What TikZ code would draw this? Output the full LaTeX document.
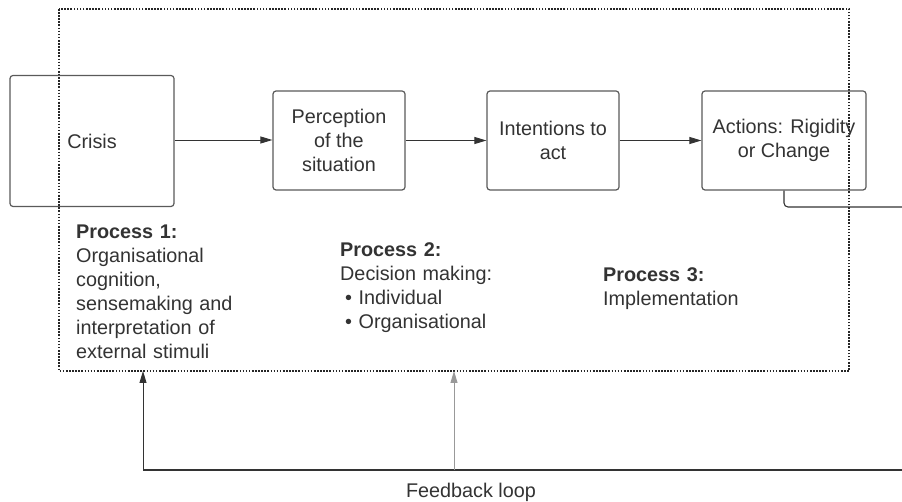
\documentclass[tikz,border=0pt]{standalone}
\usepackage{fontspec}
\setmainfont{Liberation Sans}
\usetikzlibrary{arrows.meta}
\definecolor{ink}{HTML}{333333}
\definecolor{edge}{HTML}{5A5A5A}
\begin{document}
\begin{tikzpicture}[x=1pt,y=-1pt,
  font=\fontsize{19.8}{24}\selectfont, text=ink,
  stagebox/.style={draw=edge, line width=1.2pt, rounded corners=3pt,
    align=center, inner sep=0pt},
  flow/.style={draw=ink, line width=0.9pt, -{Triangle[length=12pt,width=7pt]}},
  procnote/.style={anchor=base west, inner sep=0pt, align=left,
    text width=190pt},
  frame/.style={draw=black!85, line width=2pt, dash pattern=on 1.6pt off 1.5pt}]
\useasboundingbox (0,0) rectangle (902,502);
\fill[white] (0,0) rectangle (902,502);

% dotted boundary of the three processes
\draw[frame] (59,9) rectangle (849,371);

% the chain of stages
\node[stagebox, minimum width=164pt, minimum height=131pt] (crisis) at (92,141) {Crisis};
\node[stagebox, minimum width=132pt, minimum height=99pt] (perc) at (339,140.5) {Perception\\of the\\situation};
\node[stagebox, minimum width=132pt, minimum height=99pt] (intent) at (553,140.5) {Intentions to\\act};
\node[stagebox, minimum width=164pt, minimum height=99pt] (act) at (784,140.5) {Actions: Rigidity\\or Change};

\draw[flow] (crisis.east |- 0,140) -- (perc.west |- 0,140);
\draw[flow] (perc.east) -- (intent.west);
\draw[flow] (intent.east) -- (act.west);

% process descriptions
\node[procnote] (p1) at (76,239) {\textbf{Process 1:}\\Organisational\\cognition,\\sensemaking and\\interpretation of\\external stimuli};
\node[procnote] (p2) at (340,257) {\textbf{Process 2:}\\Decision making:\\\hspace*{5pt}\textbullet\ Individual\\\hspace*{5pt}\textbullet\ Organisational};
\node[procnote] (p3) at (603,282) {\textbf{Process 3:}\\Implementation};

% feedback loop
\coordinate (outA) at (902,207);
\coordinate (outB) at (902,470);
\coordinate (fbL) at (143,470);
\coordinate (fbM) at (454,470);
\coordinate (inL) at (143,371);
\coordinate (inM) at (454,371);
\draw[draw=ink, line width=1.1pt, rounded corners=4pt] (act.south) -- (784,207) -- (outA);
\draw[draw=ink, line width=1.3pt] (fbL) -- (outB);
\draw[flow] (fbL) -- (inL);
\draw[flow, draw=gray!80] (fbM) -- (inM);
\node[anchor=base, inner sep=0pt] (fbtext) at (471,497) {Feedback loop};
\end{tikzpicture}
\end{document}
